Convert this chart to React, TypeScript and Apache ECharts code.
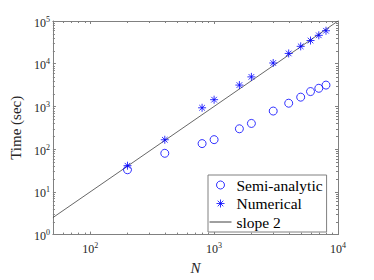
import React, { useEffect, useRef } from 'react';
import * as echarts from 'echarts';

// ---- data ----
const N = [200, 400, 800, 1000, 1600, 2000, 3000, 4000, 5000, 6000, 7000, 8000];
const semiAnalytic = [33, 80, 135, 167, 300, 400, 780, 1190, 1650, 2230, 2660, 3160];
const numerical = [41, 166, 930, 1440, 3160, 4920, 10400, 17400, 25500, 34900, 46200, 59100];
const slopeN = [50, 10000];
const slopeT = [2.5, 100000];
const seriesNames = ['Semi-analytic', 'Numerical', 'slope 2'];
const xRange = [50, 10000];
const yRange = [1, 100000];
const xMinorTicks = [60, 70, 80, 90, 200, 300, 400, 500, 600, 700, 800, 900, 2000, 3000, 4000, 5000, 6000, 7000, 8000, 9000];
const yMinorTicks = [
  2, 3, 4, 5, 6, 7, 8, 9,
  20, 30, 40, 50, 60, 70, 80, 90,
  200, 300, 400, 500, 600, 700, 800, 900,
  2000, 3000, 4000, 5000, 6000, 7000, 8000, 9000,
  20000, 30000, 40000, 50000, 60000, 70000, 80000, 90000,
];

const FONT = "'Liberation Serif', 'Times New Roman', serif";
const AXIS_COLOR = '#808080';
const TEXT_COLOR = '#262626';
const BLUE = '#0000ff';
const LINE_COLOR = '#404040';
const ASTERISK = 'path://M5 0L5 10M0 5L10 5M1.5 1.5L8.5 8.5M8.5 1.5L1.5 8.5';

const powLabel = (v: number) => {
  const e = Math.round(Math.log10(v));
  if (Math.abs(v - Math.pow(10, e)) > 1e-6 * v) return '';
  return `{b|10}{s|${e}}`;
};

const labelRich = {
  b: { fontSize: 12, fontFamily: FONT, color: TEXT_COLOR },
  s: { fontSize: 8, fontFamily: FONT, color: TEXT_COLOR, verticalAlign: 'bottom', padding: [0, 0, 7, 0] },
};

export default function App() {
  const ref = useRef<HTMLDivElement>(null);

  useEffect(() => {
    if (!ref.current) return;
    const chart = echarts.init(ref.current, undefined, { renderer: 'svg' });

    const baseX = {
      type: 'log',
      logBase: 10,
      min: xRange[0],
      max: xRange[1],
      axisLine: { show: true, lineStyle: { color: AXIS_COLOR, width: 1 } },
      axisTick: { show: true, inside: true, length: 3, lineStyle: { color: AXIS_COLOR } },
      splitLine: { show: false },
    };
    const baseY = {
      type: 'log',
      logBase: 10,
      min: yRange[0],
      max: yRange[1],
      axisLine: { show: true, lineStyle: { color: AXIS_COLOR, width: 1 } },
      axisTick: { show: true, inside: true, length: 3, lineStyle: { color: AXIS_COLOR } },
      splitLine: { show: false },
    };

    const tickData = [
      ...xMinorTicks.map((v) => [v, yRange[0], 0]),
      ...yMinorTicks.map((v) => [xRange[0], v, 1]),
    ];

    const option = {
      animation: false,
      backgroundColor: '#ffffff',
      textStyle: { fontFamily: FONT },
      grid: { left: 49, right: 36, top: 21, bottom: 40, containLabel: false },
      xAxis: [
        {
          ...baseX,
          position: 'bottom',
          name: 'N',
          nameLocation: 'middle',
          nameGap: 22,
          nameTextStyle: { fontFamily: FONT, fontSize: 15, fontStyle: 'italic', color: TEXT_COLOR },
          axisLabel: { show: true, margin: 7, fontFamily: FONT, formatter: powLabel, rich: labelRich },
        },
        { ...baseX, position: 'top', axisLabel: { show: false } },
      ],
      yAxis: [
        {
          ...baseY,
          position: 'left',
          name: 'Time (sec)',
          nameLocation: 'middle',
          nameGap: 25,
          nameRotate: 90,
          nameTextStyle: { fontFamily: FONT, fontSize: 15, color: TEXT_COLOR },
          axisLabel: {
            show: true,
            margin: 3,
            fontFamily: FONT,
            padding: [3, 0, 0, 0],
            formatter: powLabel,
            rich: labelRich,
          },
        },
        { ...baseY, position: 'right', axisLabel: { show: false } },
      ],
      legend: {
        show: true,
        orient: 'vertical',
        left: 208,
        top: 175,
        padding: [2, 4, 2, 1],
        itemWidth: 22,
        itemHeight: 8,
        itemGap: 2.5,
        backgroundColor: '#ffffff',
        borderColor: AXIS_COLOR,
        borderWidth: 1,
        borderRadius: 0,
        textStyle: { fontFamily: FONT, fontSize: 15.5, color: '#000000', lineHeight: 16 },
        data: [
          { name: seriesNames[0], icon: 'circle', itemStyle: { color: 'transparent', borderColor: BLUE, borderWidth: 1 } },
          { name: seriesNames[1], icon: ASTERISK, itemStyle: { color: BLUE, borderColor: BLUE, borderWidth: 1 } },
          {
            name: seriesNames[2],
            itemStyle: { color: 'transparent', borderColor: 'transparent', borderWidth: 0, opacity: 0 },
            lineStyle: { color: LINE_COLOR, width: 1, opacity: 1 },
          },
        ],
      },
      series: [
        {
          name: seriesNames[2],
          type: 'line',
          data: slopeN.map((n, i) => [n, slopeT[i]]),
          symbol: 'none',
          showSymbol: false,
          lineStyle: { color: LINE_COLOR, width: 0.8 },
          itemStyle: { color: LINE_COLOR },
          silent: true,
          z: 2,
        },
        {
          name: seriesNames[1],
          type: 'scatter',
          data: N.map((n, i) => [n, numerical[i]]),
          symbol: ASTERISK,
          symbolSize: 8,
          itemStyle: { color: BLUE, borderColor: BLUE, borderWidth: 1 },
          silent: true,
          z: 3,
        },
        {
          name: seriesNames[0],
          type: 'scatter',
          data: N.map((n, i) => [n, semiAnalytic[i]]),
          symbol: 'circle',
          symbolSize: 8,
          itemStyle: { color: 'transparent', borderColor: BLUE, borderWidth: 1 },
          silent: true,
          z: 4,
        },
        {
          name: 'minorTicks',
          type: 'custom',
          data: tickData,
          silent: true,
          clip: false,
          z: 5,
          renderItem: (params: any, api: any) => {
            const cs = params.coordSys;
            const kind = api.value(2);
            const L = 2;
            const style = { stroke: AXIS_COLOR, lineWidth: 1 };
            if (kind === 0) {
              const p = api.coord([api.value(0), yRange[0]]);
              const x = Math.round(p[0]) + 0.5;
              const yb = cs.y + cs.height;
              return {
                type: 'group',
                children: [
                  { type: 'line', shape: { x1: x, y1: yb, x2: x, y2: yb - L }, style },
                  { type: 'line', shape: { x1: x, y1: cs.y, x2: x, y2: cs.y + L }, style },
                ],
              };
            }
            const p = api.coord([xRange[0], api.value(1)]);
            const y = Math.round(p[1]) + 0.5;
            const xr = cs.x + cs.width;
            return {
              type: 'group',
              children: [
                { type: 'line', shape: { x1: cs.x, y1: y, x2: cs.x + L, y2: y }, style },
                { type: 'line', shape: { x1: xr, y1: y, x2: xr - L, y2: y }, style },
              ],
            };
          },
        },
      ],
    };

    chart.setOption(option as any);
    return () => chart.dispose();
  }, []);

  return (
    <div
      ref={ref}
      style={{ position: 'fixed', left: 0, top: 0, width: 374, height: 280, background: '#fff' }}
    />
  );
}
